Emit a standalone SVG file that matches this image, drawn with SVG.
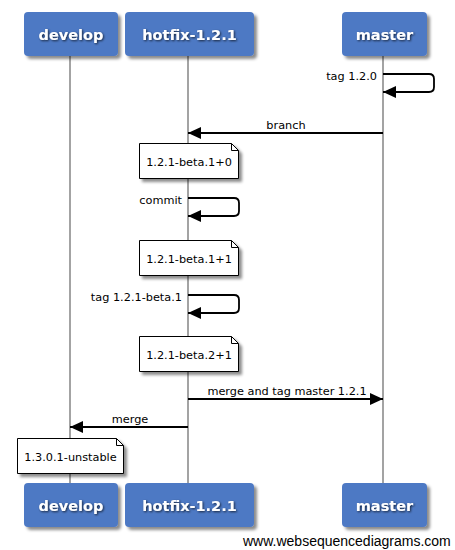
<svg xmlns="http://www.w3.org/2000/svg" width="455" height="550" viewBox="0 0 455 550">
<defs>
<filter id="sh" x="-20%" y="-20%" width="150%" height="160%">
<feDropShadow dx="3" dy="3" stdDeviation="1.5" flood-color="#000" flood-opacity="0.45"/>
</filter>
<filter id="tsh" x="-10%" y="-30%" width="130%" height="170%">
<feDropShadow dx="1" dy="1" stdDeviation="0.8" flood-color="#000" flood-opacity="0.7"/>
</filter>
<marker id="ah" viewBox="0 0 13 12" refX="13" refY="6" markerWidth="13" markerHeight="12" markerUnits="userSpaceOnUse" orient="auto">
<path d="M0,0 L13,6 L0,12 Z" fill="#000"/>
</marker>
</defs>
<style>
.box{fill:#4e79c4;filter:url(#sh)}
.bt{font-family:"DejaVu Sans",Verdana,sans-serif;font-weight:bold;font-size:14.5px;fill:#fff;text-anchor:middle;filter:url(#tsh)}
.life{stroke:#8c8c8c;stroke-width:1.6;fill:none}
.msg{stroke:#000;stroke-width:1.8;fill:none;marker-end:url(#ah)}
.lb{font-family:"DejaVu Sans",Verdana,sans-serif;font-size:11.3px;fill:#000}
.note{fill:#fff;stroke:#000;stroke-width:1;filter:url(#sh)}
.fold{fill:none;stroke:#000;stroke-width:1}
.ft{font-family:"Liberation Sans",Arial,sans-serif;font-size:14px;fill:#000}
</style>
<rect width="455" height="550" fill="#fff"/>
<g id="lifelines">
<line class="life" x1="70" y1="56" x2="70" y2="483"/>
<line class="life" x1="188" y1="56" x2="188" y2="483"/>
<line class="life" x1="383" y1="56" x2="383" y2="483"/>
</g>
<g id="develop-top"><rect class="box" x="24" y="12" width="94" height="44" rx="4"/><text class="bt" x="71" y="40">develop</text></g>
<g id="hotfix-top"><rect class="box" x="125" y="12" width="129" height="44" rx="4"/><text class="bt" x="189.5" y="40">hotfix-1.2.1</text></g>
<g id="master-top"><rect class="box" x="342" y="12" width="85" height="44" rx="4"/><text class="bt" x="384.5" y="40">master</text></g>
<g id="develop-bottom"><rect class="box" x="24" y="483" width="94" height="44" rx="4"/><text class="bt" x="71" y="511">develop</text></g>
<g id="hotfix-bottom"><rect class="box" x="125" y="483" width="129" height="44" rx="4"/><text class="bt" x="189.5" y="511">hotfix-1.2.1</text></g>
<g id="master-bottom"><rect class="box" x="342" y="483" width="85" height="44" rx="4"/><text class="bt" x="384.5" y="511">master</text></g>
<g id="connectors">
<path class="msg" d="M383,74 H429 Q434,74 434,79 V87 Q434,92 429,92 H383"/>
<text class="lb" x="377" y="80" text-anchor="end">tag 1.2.0</text>
<path class="msg" d="M383,133 H188"/>
<text class="lb" x="286" y="129" text-anchor="middle">branch</text>
<path class="msg" d="M188,198 H234 Q239,198 239,203 V211 Q239,216 234,216 H188"/>
<text class="lb" x="182" y="204" text-anchor="end">commit</text>
<path class="msg" d="M188,295 H234 Q239,295 239,300 V308 Q239,313 234,313 H188"/>
<text class="lb" x="182" y="301" text-anchor="end">tag 1.2.1-beta.1</text>
<path class="msg" d="M188,399 H383"/>
<text class="lb" x="287" y="395" text-anchor="middle">merge and tag master 1.2.1</text>
<path class="msg" d="M188,427 H70"/>
<text class="lb" x="130" y="423" text-anchor="middle">merge</text>
</g>
<g id="note1"><path class="note" d="M139.5,143.5 H231.5 L238.5,150.5 V178.5 H139.5 Z"/><path class="fold" d="M231.5,143.5 V150.5 H238.5"/><text class="lb" x="189" y="166" text-anchor="middle">1.2.1-beta.1+0</text></g>
<g id="note2"><path class="note" d="M139.5,240.5 H231.5 L238.5,247.5 V275.5 H139.5 Z"/><path class="fold" d="M231.5,240.5 V247.5 H238.5"/><text class="lb" x="189" y="263" text-anchor="middle">1.2.1-beta.1+1</text></g>
<g id="note3"><path class="note" d="M139.5,336.5 H231.5 L238.5,343.5 V371.5 H139.5 Z"/><path class="fold" d="M231.5,336.5 V343.5 H238.5"/><text class="lb" x="189" y="359" text-anchor="middle">1.2.1-beta.2+1</text></g>
<g id="note4"><path class="note" d="M17.5,438.5 H116.5 L123.5,445.5 V473.5 H17.5 Z"/><path class="fold" d="M116.5,438.5 V445.5 H123.5"/><text class="lb" x="70.5" y="461" text-anchor="middle">1.3.0.1-unstable</text></g>
<text class="ft" x="243" y="546">www.websequencediagrams.com</text>
</svg>
